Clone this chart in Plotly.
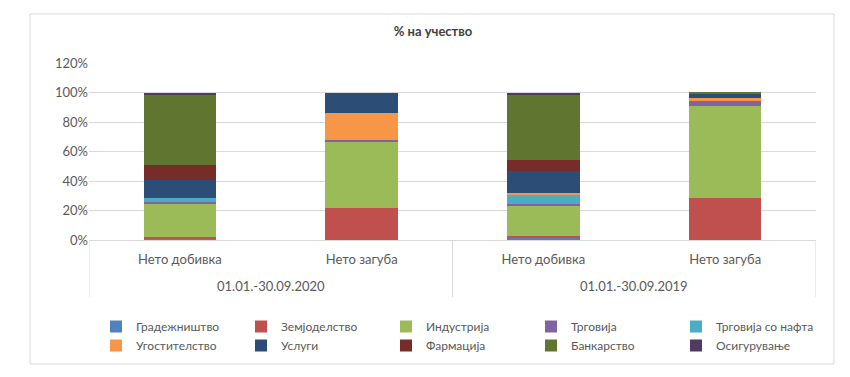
import plotly.graph_objects as go

periods = ["01.01.-30.09.2020", "01.01.-30.09.2019"]
results = ["Нето добивка", "Нето загуба", "Нето добивка", "Нето загуба"]

sectors = ["Градежништво", "Земјоделство", "Индустрија", "Трговија", "Трговија со нафта",
           "Угостителство", "Услуги", "Фармација", "Банкарство", "Осигурување"]

gradezhnishtvo = [1.0, 0.0, 2.0, 0.0]
zemjodelstvo = [1.0, 22.0, 1.0, 28.8]
industrija = [23.0, 44.7, 20.5, 62.3]
trgovija = [0.7, 1.3, 0.7, 3.0]
trgovija_nafta = [3.0, 0.0, 6.6, 0.0]
ugostitelstvo = [0.0, 17.8, 1.4, 2.3]
uslugi = [12.0, 14.2, 14.8, 2.7]
farmacija = [10.0, 0.0, 7.3, 0.0]
bankarstvo = [47.8, 0.0, 44.5, 1.0]
osiguruvanje = [1.5, 0.0, 1.2, 0.0]

series = [gradezhnishtvo, zemjodelstvo, industrija, trgovija, trgovija_nafta,
          ugostitelstvo, uslugi, farmacija, bankarstvo, osiguruvanje]
colors = ["#4F81BD", "#C0504D", "#9BBB59", "#8064A2", "#4BACC6",
          "#F79646", "#2C4D75", "#772C2A", "#5F7530", "#4D3B62"]

FONT = "Lato"
GRID = "#D9D9D9"
W, H = 842, 369  # page body has an 8px margin in the viewer
xpos = list(range(len(results)))

fig = go.Figure()
for name, vals, col in zip(sectors, series, colors):
    fig.add_trace(go.Bar(
        x=xpos, y=[v / 100 for v in vals], name=name, width=0.4,
        marker=dict(color=col, line=dict(width=0)),
    ))

fig.update_layout(
    barmode="stack",
    width=W, height=H,
    margin=dict(l=81, r=34, t=55, b=137, autoexpand=False),
    paper_bgcolor="white", plot_bgcolor="white",
    font=dict(family=FONT, size=13, color="#595959"),
    title=dict(text="<b>% на учество</b>", x=425 / W, xref="container", xanchor="center",
               y=1 - 23 / H, yref="container", yanchor="middle",
               font=dict(family=FONT, size=13, color="#404040")),
    yaxis=dict(range=[0, 1.2], dtick=0.2, tickformat=".0%", gridcolor=GRID, gridwidth=1,
               zeroline=False, showline=False, ticks="", automargin=False,
               tickfont=dict(size=13, color="#595959")),
    xaxis=dict(range=[-0.5, len(results) - 0.5], tickmode="array", tickvals=xpos, ticktext=results,
               showline=True, linecolor=GRID, linewidth=1, showgrid=False, zeroline=False,
               ticks="", ticklabelstandoff=7, automargin=False,
               tickfont=dict(size=13, color="#595959")),
    legend=dict(orientation="h", x=0.0096, xanchor="left", xref="paper",
                y=1 - 304 / H, yref="container", yanchor="top",
                entrywidth=100, entrywidthmode="pixels", traceorder="normal",
                font=dict(size=12, color="#595959"), itemwidth=30, tracegroupgap=0),
    showlegend=True,
)

# group dividers below the axis
for xv in [-0.5, 1.5, 3.5]:
    fig.add_shape(type="line", xref="x", yref="paper", x0=xv, x1=xv,
                  y0=0, y1=-57 / 177, line=dict(color=GRID, width=1))

# outer group labels
for i, p in enumerate(periods):
    fig.add_annotation(text=p, xref="x", yref="paper", x=2 * i + 0.5, y=-46 / 177,
                       yanchor="middle", showarrow=False, font=dict(size=13, color="#595959"))

fig.add_shape(type="rect", xref="paper", yref="paper",
              x0=(30 - 89) / 727, x1=(834 - 89) / 727,
              y0=(240 - 364) / 177, y1=(240 - 14) / 177,
              line=dict(color=GRID, width=1), fillcolor="rgba(0,0,0,0)", layer="below")

fig.write_html("out.html")
